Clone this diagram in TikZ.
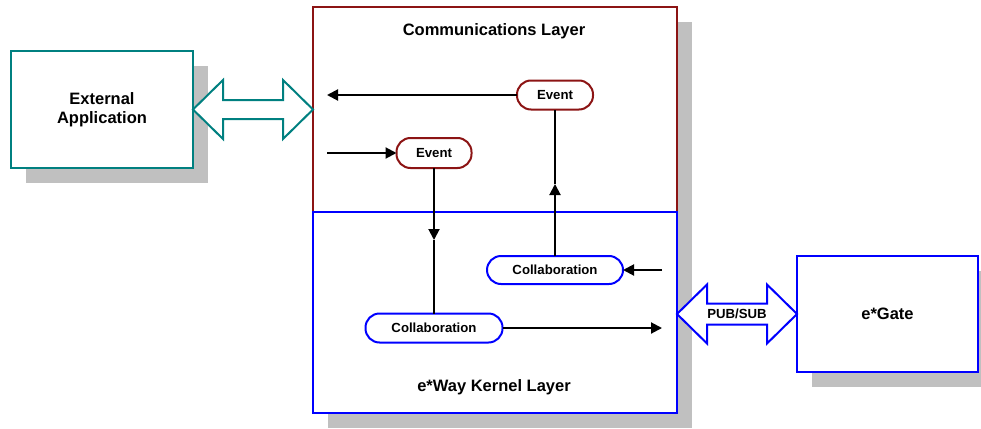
\documentclass[tikz,border=0pt]{standalone}
\usepackage{fontspec}
\setmainfont{Liberation Sans}
\usetikzlibrary{calc,arrows.meta}
\definecolor{cred}{RGB}{140,20,20}
\definecolor{cteal}{RGB}{0,128,128}
\definecolor{cblue}{RGB}{0,0,255}
\definecolor{cshadow}{RGB}{192,192,192}
\tikzset{
  bigtxt/.style={font=\fontsize{16.5}{19}\selectfont\bfseries},
  smalltxt/.style={font=\fontsize{13.2}{15}\selectfont\bfseries},
  box/.style={draw, line width=2pt, fill=white, inner sep=0pt, outer sep=0pt},
  pill/.style={draw=#1, line width=2pt, fill=white, rounded corners=14pt, inner sep=0pt, outer sep=0pt, smalltxt},
  conn/.style={line width=2pt},
  arr/.style={line width=2pt, -{Triangle[length=11pt,width=11pt]}},
  blockarrow/.style={draw=#1, line width=2pt, fill=white, line join=miter},
}
\begin{document}
\begin{tikzpicture}[x=1pt,y=-1pt]
\useasboundingbox (0,0) rectangle (981,428);
% shadows
\fill[cshadow] (26,66) rectangle (208,183);
\fill[cshadow] (328,22) rectangle (692,428);
\fill[cshadow] (812,271) rectangle (993,387);
% main boxes
\node[box, draw=cteal, minimum width=182pt, minimum height=117pt, bigtxt, align=center] (ext) at (102,109.5) {External\\Application};
\node[box, draw=cred, minimum width=364pt, minimum height=205pt] (comm) at (495,109.5) {};
\node[box, draw=cblue, minimum width=364pt, minimum height=201pt] (kern) at (495,312.5) {};
\node[bigtxt] (commlbl) at (494,31) {Communications Layer};
\node[bigtxt] (kernlbl) at (494,387) {e*Way Kernel Layer};
\node[box, draw=cblue, minimum width=181pt, minimum height=116pt, bigtxt] (gate) at (887.5,314) {e*Gate};
% pills
\node[pill=cred, minimum width=76pt, minimum height=29pt] (ev1) at (555,95) {Event};
\node[pill=cred, minimum width=75pt, minimum height=30pt] (ev2) at (434,153) {Event};
\node[pill=cblue, minimum width=136pt, minimum height=28pt] (col2) at (555,270) {Collaboration};
\node[pill=cblue, minimum width=137pt, minimum height=29pt] (col1) at (434,328) {Collaboration};
% free ends
\coordinate (outL) at (327,95);
\coordinate (inL) at (327,153);
\coordinate (inR) at (662,270);
\coordinate (outR) at (662,328);
\coordinate (midD) at (434,240);
\coordinate (midU) at (555,184);
% connectors
\draw[arr] (ev1.west) -- (outL);
\draw[arr] (inL) -- (ev2.west);
\draw[arr] (inR) -- (col2.east);
\draw[arr] (col1.east) -- (outR);
\draw[arr] (ev2.south) -- (midD);
\draw[conn] (midD) -- (col1.north);
\draw[arr] (col2.north) -- (midU);
\draw[conn] (midU) -- (ev1.south);
% teal block double arrow
\coordinate (tL) at (ext.east);
\coordinate (tR) at (comm.west |- ext.east);
\draw[blockarrow=cteal] (tL) -- ($(tL)+(30,-29.5)$) -- ($(tL)+(30,-9.5)$) -- ($(tR)+(-30,-9.5)$) -- ($(tR)+(-30,-29.5)$) -- (tR) -- ($(tR)+(-30,29.5)$) -- ($(tR)+(-30,9.5)$) -- ($(tL)+(30,9.5)$) -- ($(tL)+(30,29.5)$) -- cycle;
% blue PUB/SUB double arrow
\coordinate (pL) at (kern.east |- gate.west);
\coordinate (pR) at (gate.west);
\draw[blockarrow=cblue] (pL) -- ($(pL)+(30,-29.5)$) -- ($(pL)+(30,-10.5)$) -- ($(pR)+(-30,-10.5)$) -- ($(pR)+(-30,-29.5)$) -- (pR) -- ($(pR)+(-30,29.5)$) -- ($(pR)+(-30,10.5)$) -- ($(pL)+(30,10.5)$) -- ($(pL)+(30,29.5)$) -- cycle;
\node[smalltxt] (pubsub) at ($(pL)!0.5!(pR)$) {PUB/SUB};
\end{tikzpicture}
\end{document}
